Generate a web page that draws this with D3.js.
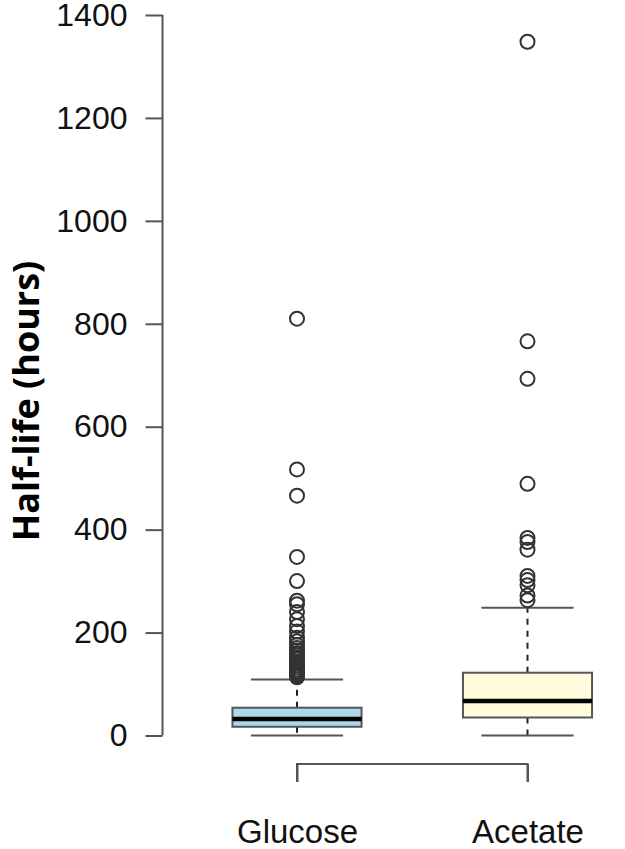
<!DOCTYPE html>
<html>
<head>
<meta charset="utf-8">
<script src="https://cdn.jsdelivr.net/npm/d3@7"></script>
<style>
  body { margin: 0; background: #fff; }
  svg { display: block; }
</style>
</head>
<body>
<script>
// groups and box stats (hours)
var groups = ['Glucose', 'Acetate'];
var fills = ['#add8e6', '#fffbdc'];
var lowWhisker = [0, 0];
var q1 = [17, 35];
var median = [32, 67];
var q3 = [54, 122];
var highWhisker = [109, 248];
var glucoseOut = [810, 517, 466, 347, 300, 262, 255, 240, 226, 213, 202, 190, 183,
                  176, 170, 165, 160, 156, 152, 148, 144, 140, 136, 132, 128, 125,
                  122, 119, 116, 113];
var acetateOut = [1348, 766, 693, 489, 384, 376, 361, 310, 302, 292, 272, 263];
var outliers = [glucoseOut, acetateOut];
var yTicks = [0, 200, 400, 600, 800, 1000, 1200, 1400];

var width = 625, height = 849;

var svg = d3.select('body').append('svg')
  .attr('width', width)
  .attr('height', height);

var x = d3.scalePoint().domain(groups).range([181.75, 642.75]).padding(0.5);
var y = d3.scaleLinear().domain([0, 1400]).range([735.5, 15]);

var step = x.step();
var boxHalf = step * 0.28;
var capHalf = step * 0.2;

var stats = groups.map(function(g, i) {
  return {name: g, fill: fills[i], lo: lowWhisker[i], q1: q1[i], med: median[i],
          q3: q3[i], hi: highWhisker[i], out: outliers[i]};
});

var lineCol = '#555';

// y axis, R style
var yAxis = svg.append('g')
  .attr('transform', 'translate(162.5,0)')
  .call(d3.axisLeft(y).tickValues(yTicks).tickFormat(d3.format('d'))
    .tickSize(17).tickPadding(18));
yAxis.select('.domain').attr('stroke', lineCol).attr('stroke-width', 2)
  .attr('d', 'M0,' + y(0) + 'V' + y(1400));
yAxis.selectAll('.tick line').attr('stroke', lineCol).attr('stroke-width', 2);
yAxis.selectAll('.tick text')
  .attr('font-family', 'Liberation Sans, Arial, sans-serif')
  .attr('font-size', 32)
  .attr('fill', '#111');

svg.append('text')
  .text('Half-life (hours)')
  .attr('transform', 'translate(39,' + 401 + ') rotate(-90)')
  .attr('text-anchor', 'middle')
  .attr('font-family', 'Open Sans, Liberation Sans, sans-serif')
  .attr('font-weight', 'bold')
  .attr('font-size', 36)
  .attr('fill', '#000');

// boxes
var box = svg.selectAll('.box').data(stats).enter().append('g').attr('class', 'box');

box.append('line')
  .attr('x1', function(d) { return x(d.name); })
  .attr('x2', function(d) { return x(d.name); })
  .attr('y1', function(d) { return y(d.q3); })
  .attr('y2', function(d) { return y(d.hi); })
  .attr('stroke', '#222').attr('stroke-width', 2).attr('stroke-dasharray', '6,6');
box.append('line')
  .attr('x1', function(d) { return x(d.name); })
  .attr('x2', function(d) { return x(d.name); })
  .attr('y1', function(d) { return y(d.q1); })
  .attr('y2', function(d) { return y(d.lo); })
  .attr('stroke', '#222').attr('stroke-width', 2).attr('stroke-dasharray', '6,6');

['hi', 'lo'].forEach(function(k) {
  box.append('line')
    .attr('x1', function(d) { return x(d.name) - capHalf; })
    .attr('x2', function(d) { return x(d.name) + capHalf; })
    .attr('y1', function(d) { return y(d[k]); })
    .attr('y2', function(d) { return y(d[k]); })
    .attr('stroke', lineCol).attr('stroke-width', 2);
});

box.append('rect')
  .attr('x', function(d) { return x(d.name) - boxHalf; })
  .attr('width', boxHalf * 2)
  .attr('y', function(d) { return y(d.q3); })
  .attr('height', function(d) { return y(d.q1) - y(d.q3); })
  .attr('fill', function(d) { return d.fill; })
  .attr('stroke', lineCol).attr('stroke-width', 2);

box.append('line')
  .attr('x1', function(d) { return x(d.name) - boxHalf; })
  .attr('x2', function(d) { return x(d.name) + boxHalf; })
  .attr('y1', function(d) { return y(d.med); })
  .attr('y2', function(d) { return y(d.med); })
  .attr('stroke', '#000').attr('stroke-width', 4.5);

// outlier circles
box.selectAll('circle')
  .data(function(d) { return d.out.map(function(v) { return {name: d.name, v: v}; }); })
  .enter().append('circle')
  .attr('cx', function(d) { return x(d.name); })
  .attr('cy', function(d) { return y(d.v); })
  .attr('r', 7)
  .attr('fill', 'none')
  .attr('stroke', '#333')
  .attr('stroke-width', 2);

// bottom bracket axis
var xAxis = svg.append('g')
  .attr('transform', 'translate(0,764)')
  .call(d3.axisBottom(x).tickSize(18).tickPadding(38));
xAxis.select('.domain').attr('stroke', lineCol).attr('stroke-width', 2)
  .attr('d', 'M' + x(groups[0]) + ',18V0H' + x(groups[1]) + 'V18');
xAxis.selectAll('.tick line').attr('stroke', lineCol).attr('stroke-width', 2);
xAxis.selectAll('.tick text')
  .attr('font-family', 'Liberation Sans, Arial, sans-serif')
  .attr('font-size', 33)
  .attr('fill', '#111');
</script>
</body>
</html>
